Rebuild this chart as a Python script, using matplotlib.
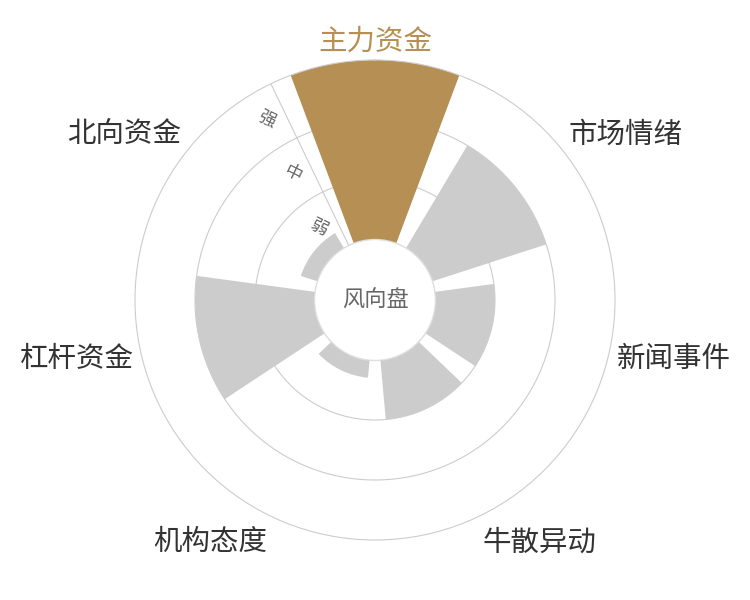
import numpy as np
import matplotlib.pyplot as plt
from matplotlib.patches import Circle
from matplotlib.transforms import offset_copy

plt.rcParams['font.family'] = ['Noto Sans CJK SC', 'DejaVu Sans']

categories = ['主力资金', '市场情绪', '新闻事件', '牛散异动', '机构态度', '杠杆资金', '北向资金']
values = [3, 2, 1, 1, 0.3, 2, 0.3]
levels = ['弱', '中', '强']
highlight = '主力资金'

gold = '#B58F53'
grey = '#CCCCCC'
line_c = '#CCCCCC'

n = len(categories)
step = 2 * np.pi / n
theta = np.arange(n) * step

fig = plt.figure(figsize=(7.5, 6), dpi=100)
# outer ring radius 240 px around (375, 300)
ax = fig.add_axes([0.18, 0.1, 0.64, 0.8], projection='polar')
ax.set_theta_zero_location('N')
ax.set_theta_direction(-1)
ax.set_ylim(0, 3)
ax.set_rorigin(-1)

ax.grid(False)
ax.set_xticks([])
ax.set_yticks([])
for name, sp in ax.spines.items():
    sp.set_visible(name == 'polar')
ax.spines['polar'].set_color(line_c)
ax.spines['polar'].set_linewidth(0.8)

# ring circles
circ = np.linspace(0, 2 * np.pi, 400)
for r in [1, 2]:
    ax.plot(circ, np.full_like(circ, r), color=line_c, lw=0.8, zorder=1)

# radial axis line at the sector boundary left of the top bar
axis_th = 2 * np.pi - step / 2
ax.plot([axis_th, axis_th], [0, 3], color=line_c, lw=0.8, zorder=1)

colors = [gold if c == highlight else grey for c in categories]
ax.bar(theta, values, width=step * 0.8, bottom=0, color=colors,
       edgecolor='none', zorder=2)

# level labels beside the radial axis
lab_tr = offset_copy(ax.transData, fig=fig, x=-19 * np.cos(step / 2),
                     y=-19 * np.sin(step / 2), units='dots')
for i, lab in enumerate(levels):
    ax.text(axis_th, i + 0.5, lab, rotation=-26, transform=lab_tr,
            ha='center', va='center', fontsize=12.5, color='#666666', zorder=3)

# category labels
txt_tr = offset_copy(ax.transData, fig=fig, x=0, y=-4, units='dots')
for th, lab in zip(theta, categories):
    s, c = np.sin(th), np.cos(th)
    ha = 'center' if abs(s) < 0.1 else ('left' if s > 0 else 'right')
    va = 'center' if abs(c) < 0.3 else ('bottom' if c > 0 else 'top')
    ax.text(th, 3.13, lab, ha=ha, va=va, fontsize=20.5, transform=txt_tr,
            color=gold if lab == highlight else '#333333')

# centre disc
hub = Circle((0.5, 0.5), 0.126, transform=ax.transAxes, facecolor='white',
             edgecolor='#E0E0E0', lw=1.0, zorder=5, clip_on=False)
ax.add_artist(hub)
ax.text(0.5, 0.5, '风向盘', transform=ax.transAxes, ha='center', va='center',
        fontsize=16, color='#666666', zorder=6)

fig.savefig('out.png', dpi=100)
